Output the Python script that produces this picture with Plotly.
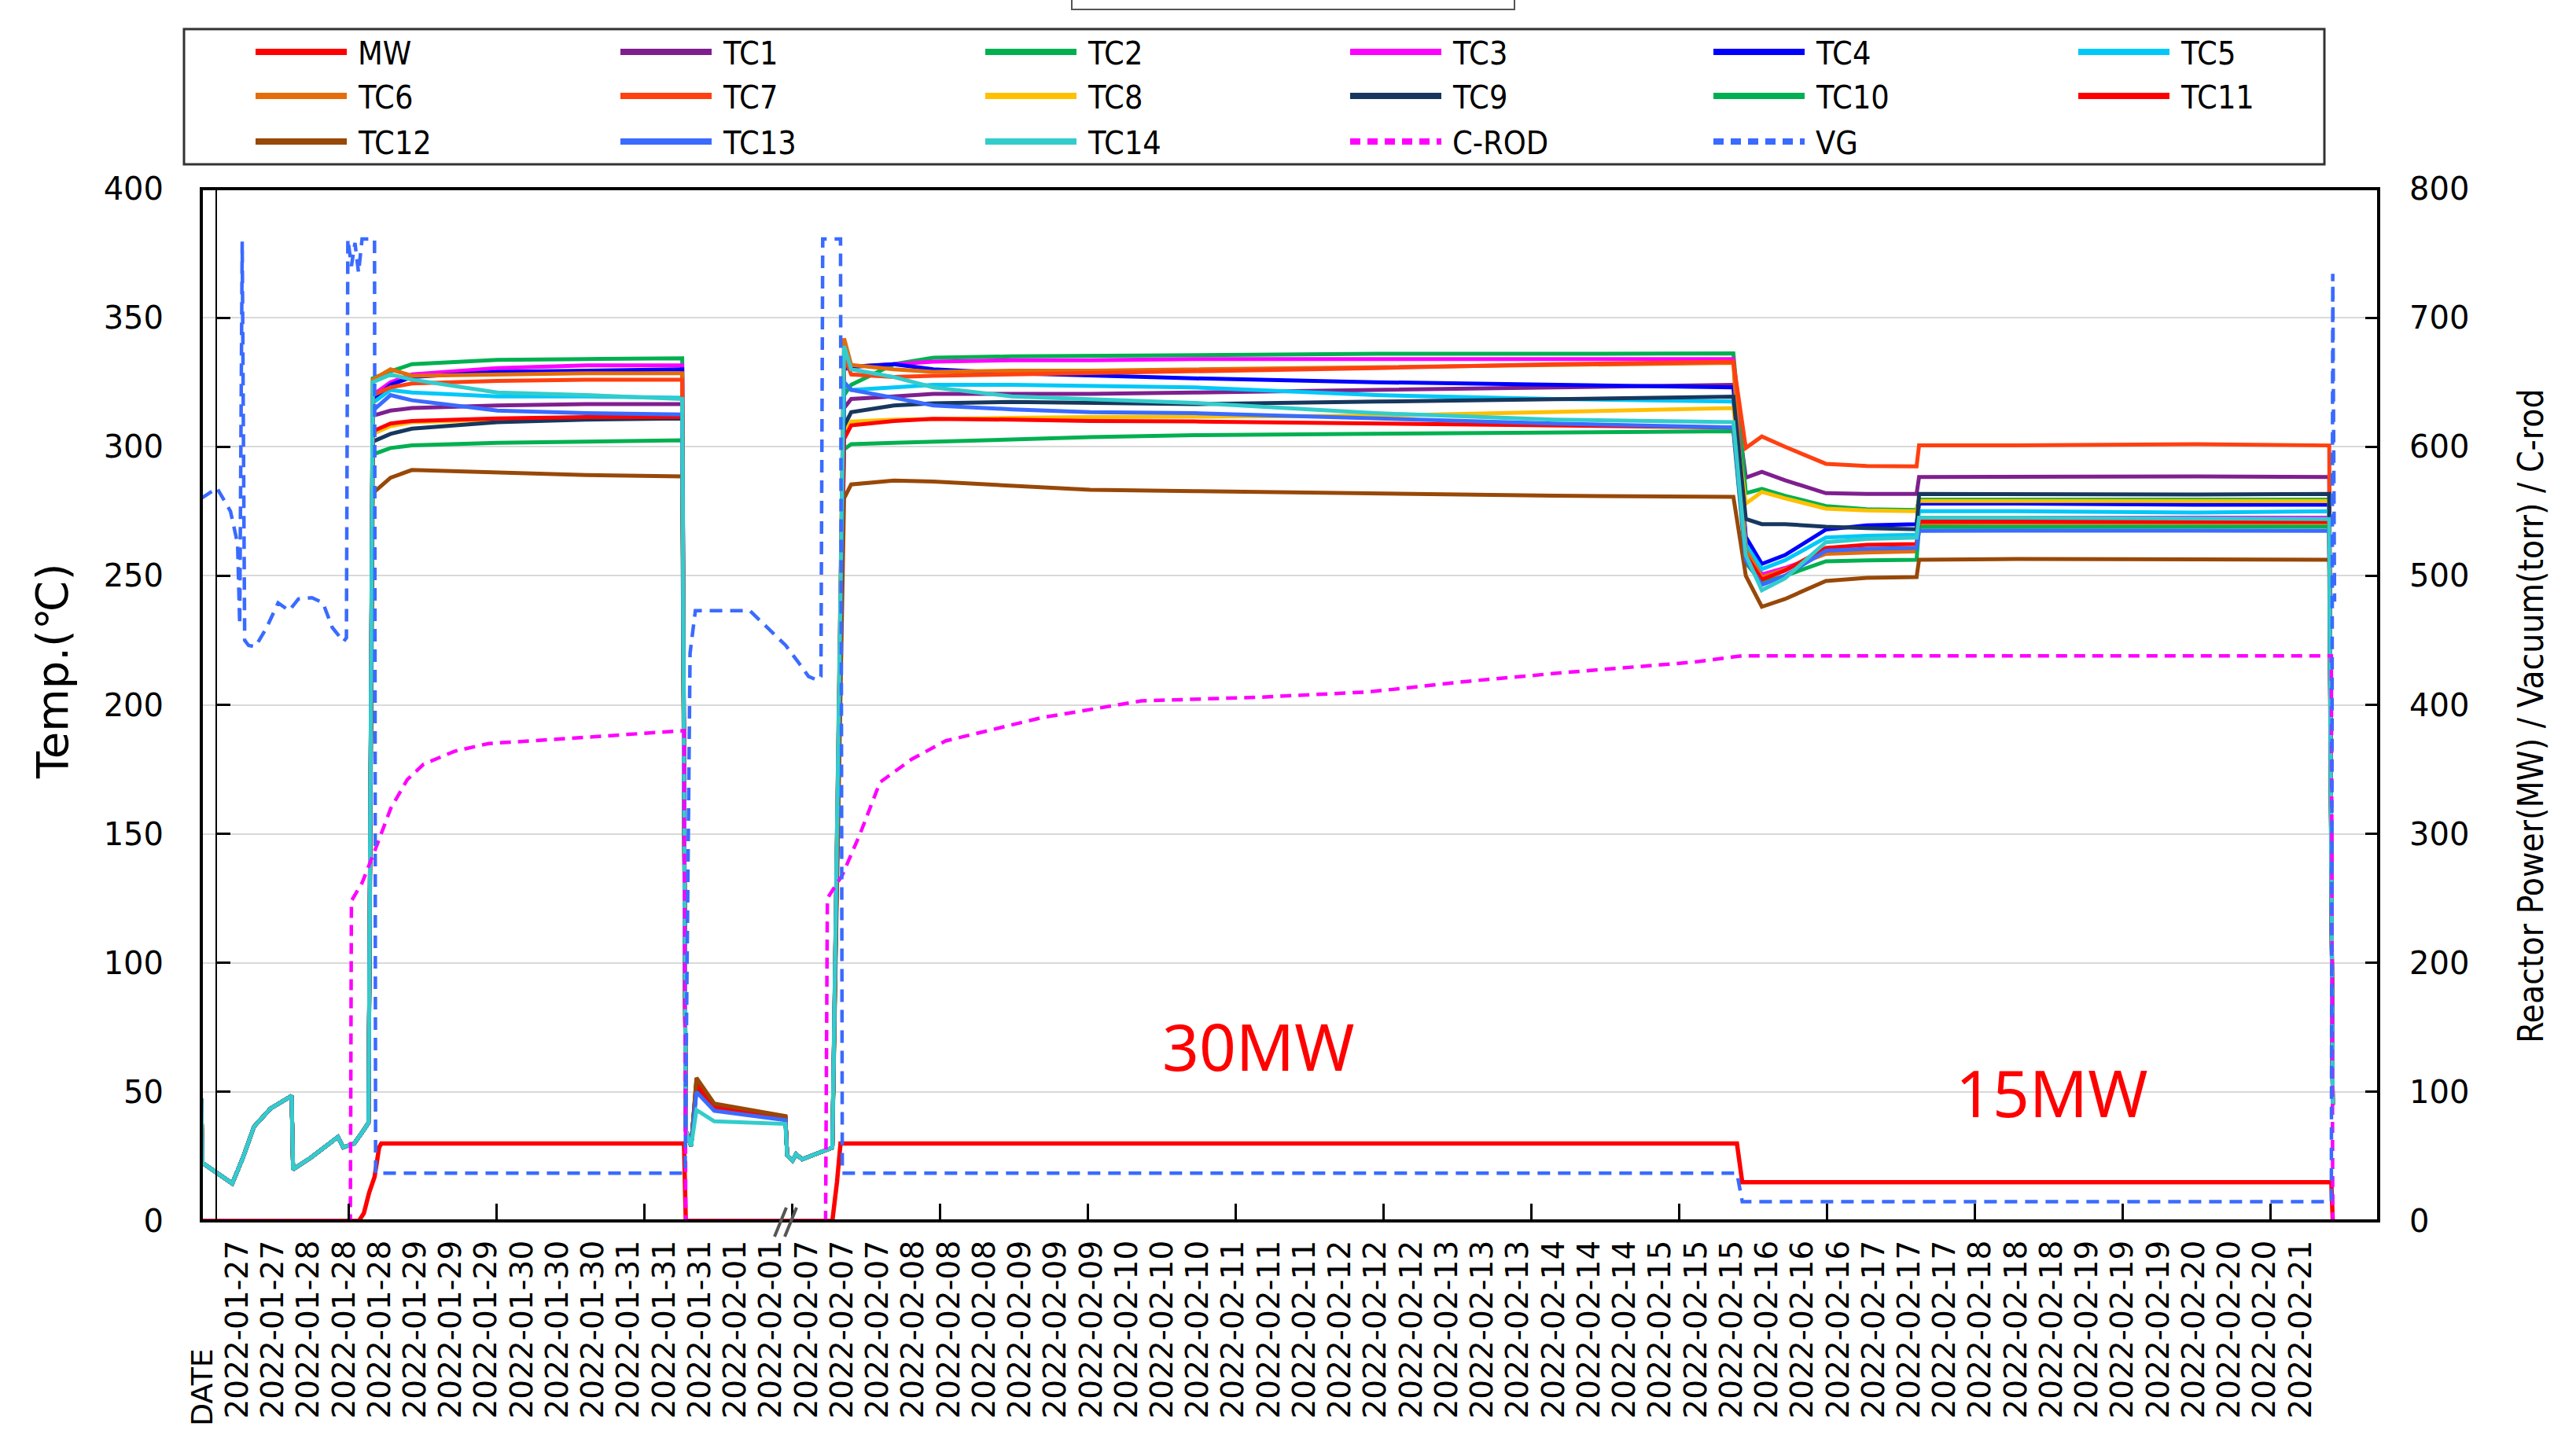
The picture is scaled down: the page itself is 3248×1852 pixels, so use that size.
import plotly.graph_objects as go

# ------------------------------------------------------------------ data
DATE_GROUPS = [("2022-01-27", 2), ("2022-01-28", 3), ("2022-01-29", 3), ("2022-01-30", 3),
               ("2022-01-31", 3), ("2022-02-01", 2), ("2022-02-07", 3), ("2022-02-08", 3),
               ("2022-02-09", 3), ("2022-02-10", 3), ("2022-02-11", 3), ("2022-02-12", 3),
               ("2022-02-13", 3), ("2022-02-14", 3), ("2022-02-15", 3), ("2022-02-16", 3),
               ("2022-02-17", 3), ("2022-02-18", 3), ("2022-02-19", 3), ("2022-02-20", 3),
               ("2022-02-21", 1)]
TICK_TEXT = [d for d, n in DATE_GROUPS for _ in range(n)]
TICK_POS = list(range(len(TICK_TEXT)))
INNER_TICKS = [3.12, 7.27, 11.43, 15.59, 19.74, 23.90, 28.05, 32.21, 36.37, 40.52,
               44.68, 48.83, 52.99, 57.15]

# time positions (in date-label units) shared by all thermocouples
PRE_X = [-1.02, -0.99, -0.15, 0.15, 0.46, 0.92, 1.52, 1.56, 2.06, 2.82, 2.97, 3.28, 3.51, 3.68]
PRE_T = [47.5, 22.5, 14.5, 24.5, 36.5, 43.5, 48.5, 20.0, 24.5, 32.5, 28.5, 30.0, 34.5, 38.0]
P1_X = [3.8, 4.3, 4.9, 7.3, 9.8, 12.5]
GAP_HEAD_X = [12.6, 12.75]
GAP_HEAD_T = [35.0, 29.0]
GAP_PEAK_X = [12.9, 13.4, 15.4]
GAP_TAIL_X = [15.45, 15.6, 15.7, 15.87, 16.72]
GAP_TAIL_T = [25.4, 23.4, 25.9, 23.9, 28.4]
P2_X = [17.05, 17.25, 18.45, 19.56, 21.77, 23.97, 26.9, 32.0, 37.0, 42.05]
P3_X = [42.4, 42.85, 43.5, 44.65, 45.8, 47.2, 47.27, 50.0, 55.0, 58.8]
END_X = [58.9]
END_T = [45.0]

TC1_P1 = [312, 314, 315, 316, 316.5, 316.5]
TC1_PK = [54, 44.5, 40.3]
TC1_P2 = [315, 318.5, 319.5, 320.5, 320.5, 320.5, 321, 322, 323, 324]
TC1_P3 = [288, 290.3, 287, 282, 281.7, 281.7, 288.3, 288.5, 288.5, 288.3]

TC2_P1 = [326.5, 329.2, 332, 333.7, 334, 334.3]
TC2_PK = [54.5, 45, 40.4]
TC2_P2 = [320, 324, 332, 334.5, 335, 335.2, 335.7, 336, 336, 336.2]
TC2_P3 = [282, 283.7, 281, 277, 275.8, 275.5, 279.5, 279.5, 279.5, 279.5]

TC3_P1 = [320, 325, 328, 330.5, 331.5, 331.5]
TC3_PK = [53.5, 44.5, 40.2]
TC3_P2 = [330, 331, 332, 333, 333.5, 333.5, 334, 334, 334, 334]
TC3_P3 = [262, 250.5, 253, 258.7, 259.5, 259.7, 272, 272.5, 272.5, 272.5]

TC4_P1 = [318, 324, 327, 329, 329.5, 330]
TC4_PK = [52, 44, 40]
TC4_P2 = [330, 331, 332, 330, 328.5, 327.5, 326.5, 325, 324, 323]
TC4_P3 = [265, 254.6, 258, 267.9, 269.5, 270, 278, 278, 277.5, 277.5]

TC5_P1 = [317, 322, 321, 319.5, 319.5, 319]
TC5_PK = [51, 43.5, 39.8]
TC5_P2 = [325, 322, 323, 324, 324, 323.5, 323, 320, 318.5, 317.5]
TC5_P3 = [262, 252.6, 256, 264.8, 265.5, 265.9, 275, 275, 274.5, 275]

TC6_P1 = [326, 330, 327.5, 328, 328.5, 328.5]
TC6_PK = [54.5, 45.2, 40.5]
TC6_P2 = [342, 331.7, 330, 329, 329.5, 329.5, 330, 331, 332, 332.5]
TC6_P3 = [260, 249.5, 252.5, 258.5, 259, 259.5, 270.4, 270.5, 270.5, 270.5]

TC7_P1 = [320, 323, 324.5, 325.5, 326, 326]
TC7_PK = [53, 44.2, 40.1]
TC7_P2 = [335, 328, 327, 327.5, 328, 328.5, 329, 330.5, 332, 333]
TC7_P3 = [299.5, 304, 300, 293.4, 292.5, 292.4, 300.5, 300.5, 301, 300.5]

TC8_P1 = [305, 308, 309.5, 310.5, 311, 311]
TC8_PK = [52.5, 44, 40]
TC8_P2 = [305, 309.8, 310.5, 310.8, 311.2, 311.5, 311.8, 312, 313.5, 315]
TC8_P3 = [278, 282.5, 280, 276, 275.3, 275, 279, 279, 279, 279]

TC9_P1 = [302, 305, 307, 309.5, 310.5, 311]
TC9_PK = [51.5, 43.6, 39.7]
TC9_P2 = [308, 313.4, 316, 316.8, 317.4, 317, 316.5, 317.5, 318.5, 319.4]
TC9_P3 = [272, 270, 270, 269, 268.5, 268, 281.7, 281.5, 281.5, 281.7]

TC10_P1 = [297, 299.5, 300.5, 301.5, 302, 302.5]
TC10_PK = [53.8, 44.8, 40.3]
TC10_P2 = [299, 301, 301.5, 302, 303, 303.7, 304.5, 305, 305.5, 306]
TC10_P3 = [255, 247.5, 250, 255.6, 256, 256.2, 268.9, 269, 269, 269]

TC11_P1 = [306, 309, 310, 311, 311.5, 311.5]
TC11_PK = [52.8, 44.2, 40]
TC11_P2 = [303, 308.3, 310, 310.8, 310.5, 310, 309.8, 309, 308, 307.5]
TC11_P3 = [258, 248.5, 252, 260.8, 262, 262.3, 271, 271, 271, 271]

TC12_P1 = [282, 288, 291, 290, 289, 288.5]
TC12_PK = [55.5, 45.5, 40.6]
TC12_P2 = [280, 285.4, 286.9, 286.5, 284.8, 283.3, 282.8, 282, 281, 280.6]
TC12_P3 = [250, 238, 241, 248, 249.2, 249.5, 256.2, 256.5, 256.5, 256.2]

TC13_P1 = [314, 320, 318, 314, 313, 312.5]
TC13_PK = [50, 42.7, 39.1]
TC13_P2 = [325, 322, 319, 316, 314.5, 313.4, 313, 311, 309, 307.5]
TC13_P3 = [256, 246.5, 250, 259.7, 260.5, 260.8, 267.4, 267.5, 267.5, 267.4]

TC14_P1 = [325, 328, 326, 321, 320, 318.5]
TC14_PK = [43, 38.6, 37.6]
TC14_P2 = [339, 330, 327, 323, 319.5, 318.5, 317, 313, 310.5, 309.5]
TC14_P3 = [258, 244.4, 249, 263, 264.3, 264.8, 272.5, 272.5, 272, 272]

MW_X = [-1.02, 3.41, 3.55, 3.7, 3.85, 3.98, 4.04, 12.55, 12.6, 16.72, 16.85, 16.9, 16.95,
        42.15, 42.3, 58.86, 58.9]
MW_Y = [0, 0, 3, 11, 17, 28.5, 30, 30, 0, 0, 15, 24, 30, 30, 15, 15, 0]

VG_X = [-1.02, -0.58, -0.2, 0.0, 0.06, 0.13, 0.2, 0.31, 0.5, 0.82, 1.14, 1.45, 1.71, 2.09,
        2.4, 2.66, 2.98, 3.06, 3.1, 3.2, 3.3, 3.4, 3.5, 3.85, 3.88, 12.58, 12.72, 12.87,
        14.4, 14.9, 15.41, 15.79, 16.05, 16.3, 16.4, 16.45, 16.95, 17.0, 42.15, 42.3,
        58.86, 58.9, 58.95]
VG_Y = [560, 568, 550, 525, 462, 759, 450, 446, 445, 460, 479, 473, 482, 483,
        479, 460, 449, 452, 761, 740, 758, 735, 761, 761, 37, 37, 440, 473,
        473, 460, 446, 432, 422, 419, 422, 761, 761, 37, 37, 15,
        15, 734, 480]

CROD_X = [-1.02, 3.17, 3.2, 3.5, 3.9, 4.31, 4.77, 5.23, 6.1, 7.06, 9.35, 12.55, 12.6,
          16.53, 16.58, 17.0, 17.5, 18.06, 18.96, 19.9, 22.6, 25.4, 28.8, 31.8, 34.5,
          37.3, 40.9, 42.3, 58.86, 58.9]
CROD_Y = [0, 0, 248, 262, 290, 320, 342, 354, 364, 370, 374, 380, 0,
          0, 250, 268, 300, 340, 358, 372, 390, 403, 406, 410, 418,
          425, 433, 438, 438, 0]

TC_SERIES = {
    "TC1": (TC1_P1, TC1_PK, TC1_P2, TC1_P3), "TC2": (TC2_P1, TC2_PK, TC2_P2, TC2_P3),
    "TC3": (TC3_P1, TC3_PK, TC3_P2, TC3_P3), "TC4": (TC4_P1, TC4_PK, TC4_P2, TC4_P3),
    "TC5": (TC5_P1, TC5_PK, TC5_P2, TC5_P3), "TC6": (TC6_P1, TC6_PK, TC6_P2, TC6_P3),
    "TC7": (TC7_P1, TC7_PK, TC7_P2, TC7_P3), "TC8": (TC8_P1, TC8_PK, TC8_P2, TC8_P3),
    "TC9": (TC9_P1, TC9_PK, TC9_P2, TC9_P3), "TC10": (TC10_P1, TC10_PK, TC10_P2, TC10_P3),
    "TC11": (TC11_P1, TC11_PK, TC11_P2, TC11_P3), "TC12": (TC12_P1, TC12_PK, TC12_P2, TC12_P3),
    "TC13": (TC13_P1, TC13_PK, TC13_P2, TC13_P3), "TC14": (TC14_P1, TC14_PK, TC14_P2, TC14_P3),
}

COLORS = {
    "MW": "#FF0000", "TC1": "#7F1F8F", "TC2": "#00B050", "TC3": "#FF00FF", "TC4": "#0000FF",
    "TC5": "#00C8F8", "TC6": "#E46C0A", "TC7": "#FF4010", "TC8": "#FFC000", "TC9": "#17375E",
    "TC10": "#00B050", "TC11": "#FF0000", "TC12": "#984807", "TC13": "#3A6BFF",
    "TC14": "#33CCCC", "C-ROD": "#FF00FF", "VG": "#3A6BFF",
}
LEGEND_ROWS = [["MW", "TC1", "TC2", "TC3", "TC4", "TC5"],
               ["TC6", "TC7", "TC8", "TC9", "TC10", "TC11"],
               ["TC12", "TC13", "TC14", "C-ROD", "VG"]]

# ------------------------------------------------------------------ layout geometry
W, H = 3248, 1852
PL, PR, PT, PB = 256, 3025, 240, 1553


def px_x(px):
    return (px - PL) / (PR - PL)


def px_y(py):
    return (PB - py) / (PB - PT)


TICK_FONT = "DejaVu Sans, Liberation Sans, sans-serif"
NARROW_FONT = "DejaVu Sans Condensed, Liberation Sans Narrow, DejaVu Sans, sans-serif"

fig = go.Figure()

fig.add_trace(go.Scatter(x=MW_X, y=MW_Y, name="MW", mode="lines",
                         line=dict(color=COLORS["MW"], width=5.5), showlegend=False))

X_TC = PRE_X + P1_X + GAP_HEAD_X + GAP_PEAK_X + GAP_TAIL_X + P2_X + P3_X + END_X
for name, (p1, pk, p2, p3) in TC_SERIES.items():
    y = PRE_T + p1 + GAP_HEAD_T + pk + GAP_TAIL_T + p2 + p3 + END_T
    fig.add_trace(go.Scatter(x=X_TC, y=y, name=name, mode="lines",
                             line=dict(color=COLORS[name], width=5), showlegend=False))

fig.add_trace(go.Scatter(x=CROD_X, y=CROD_Y, name="C-ROD", mode="lines", yaxis="y2",
                         line=dict(color=COLORS["C-ROD"], width=4.5, dash="14px,9px"),
                         showlegend=False))
fig.add_trace(go.Scatter(x=VG_X, y=VG_Y, name="VG", mode="lines", yaxis="y2",
                         line=dict(color=COLORS["VG"], width=4.5, dash="16px,10px"),
                         showlegend=False))
# invisible helper so the inner-tick axis is drawn
fig.add_trace(go.Scatter(x=[0], y=[0], xaxis="x2", mode="markers",
                         marker=dict(opacity=0), showlegend=False, hoverinfo="skip"))

shapes = []
annotations = []

# manual legend
shapes.append(dict(type="rect", xref="paper", yref="paper",
                   x0=px_x(234), x1=px_x(2956), y0=px_y(209), y1=px_y(37),
                   line=dict(color="#333333", width=3), fillcolor="white", layer="below"))
COL_X = [325, 789, 1253, 1717, 2179, 2643]
ROW_Y = [66, 122, 180]
for r, row in enumerate(LEGEND_ROWS):
    for c, name in enumerate(row):
        dash = "13px,9px" if name in ("C-ROD", "VG") else "solid"
        shapes.append(dict(type="line", xref="paper", yref="paper",
                           x0=px_x(COL_X[c]), x1=px_x(COL_X[c] + 116),
                           y0=px_y(ROW_Y[r]), y1=px_y(ROW_Y[r]),
                           line=dict(color=COLORS[name], width=8, dash=dash)))
        annotations.append(dict(text=name, xref="paper", yref="paper",
                                x=px_x(COL_X[c] + 128), y=px_y(ROW_Y[r] + 2),
                                xanchor="left", yanchor="middle", showarrow=False,
                                font=dict(family=NARROW_FONT, size=41, color="black")))

# partial box edge at top
shapes.append(dict(type="path", xref="paper", yref="paper",
                   path="M {a},{b} L {a},{c} L {d},{c} L {d},{b}".format(
                       a=px_x(1363), b=px_y(0), c=px_y(12), d=px_x(1926)),
                   line=dict(color="#555555", width=2)))

# plot frame
shapes.append(dict(type="rect", xref="paper", yref="paper", x0=0, x1=1, y0=0, y1=1,
                   line=dict(color="black", width=4), layer="above"))

# axis break mark "//"
for off in (0, 13):
    shapes.append(dict(type="line", xref="paper", yref="paper",
                       x0=px_x(985 + off), y0=px_y(1573), x1=px_x(1000 + off), y1=px_y(1536),
                       line=dict(color="#555555", width=4)))

annotations += [
    dict(text="Temp.(℃)", xref="paper", yref="paper", x=px_x(66), y=px_y(854),
         textangle=-90, showarrow=False, xanchor="center", yanchor="middle",
         font=dict(family=TICK_FONT, size=56, color="black")),
    dict(text="Reactor Power(MW) / Vacuum(torr) / C-rod", xref="paper", yref="paper",
         x=px_x(3218), y=px_y(911), textangle=-90, showarrow=False,
         xanchor="center", yanchor="middle",
         font=dict(family=NARROW_FONT, size=44, color="black")),
    dict(text="DATE", xref="paper", yref="paper", x=px_x(257), y=px_y(1765),
         textangle=-90, showarrow=False, xanchor="center", yanchor="middle",
         font=dict(family=TICK_FONT, size=38, color="black")),
    dict(text="30MW", x=28.7, y=68, xref="x", yref="y", showarrow=False,
         font=dict(family="Noto Sans, sans-serif", size=82, color="#FF0000")),
    dict(text="15MW", x=51.0, y=50, xref="x", yref="y", showarrow=False,
         font=dict(family="Noto Sans, sans-serif", size=82, color="#FF0000")),
]

XR = [-1.02, 60.19]
fig.update_layout(
    width=W, height=H,
    margin=dict(l=PL, r=W - PR, t=PT, b=H - PB, pad=0),
    paper_bgcolor="white", plot_bgcolor="white",
    showlegend=False,
    xaxis=dict(range=XR, tickvals=TICK_POS, ticktext=TICK_TEXT, tickangle=-90,
               ticks="", showgrid=False, zeroline=False, showline=False,
               tickfont=dict(family=TICK_FONT, size=39, color="black"),
               ticklabelstandoff=16),
    xaxis2=dict(range=XR, overlaying="x", anchor="y", side="bottom",
                tickvals=INNER_TICKS, ticks="inside", ticklen=22, tickwidth=3,
                tickcolor="black", showticklabels=False, showgrid=False,
                zeroline=False, showline=False),
    yaxis=dict(range=[0, 400], tickvals=list(range(0, 401, 50)), showgrid=True,
               gridcolor="#d9d9d9", gridwidth=2, zeroline=False,
               ticks="inside", ticklen=17, tickwidth=3, tickcolor="black",
               showline=True, linecolor="black", linewidth=2,
               anchor="free", position=px_x(275),
               tickfont=dict(family=TICK_FONT, size=40, color="black"),
               ticklabelstandoff=58),
    yaxis2=dict(range=[0, 800], tickvals=list(range(0, 801, 100)), overlaying="y",
                side="right", anchor="x", showgrid=False, zeroline=False,
                ticks="inside", ticklen=17, tickwidth=3, tickcolor="black",
                showline=False,
                tickfont=dict(family=TICK_FONT, size=40, color="black"),
                ticklabelstandoff=38),
    shapes=shapes,
    annotations=annotations,
)

fig.write_html("out.html", config={"displayModeBar": False},
               post_script="document.body.style.margin='0';")
